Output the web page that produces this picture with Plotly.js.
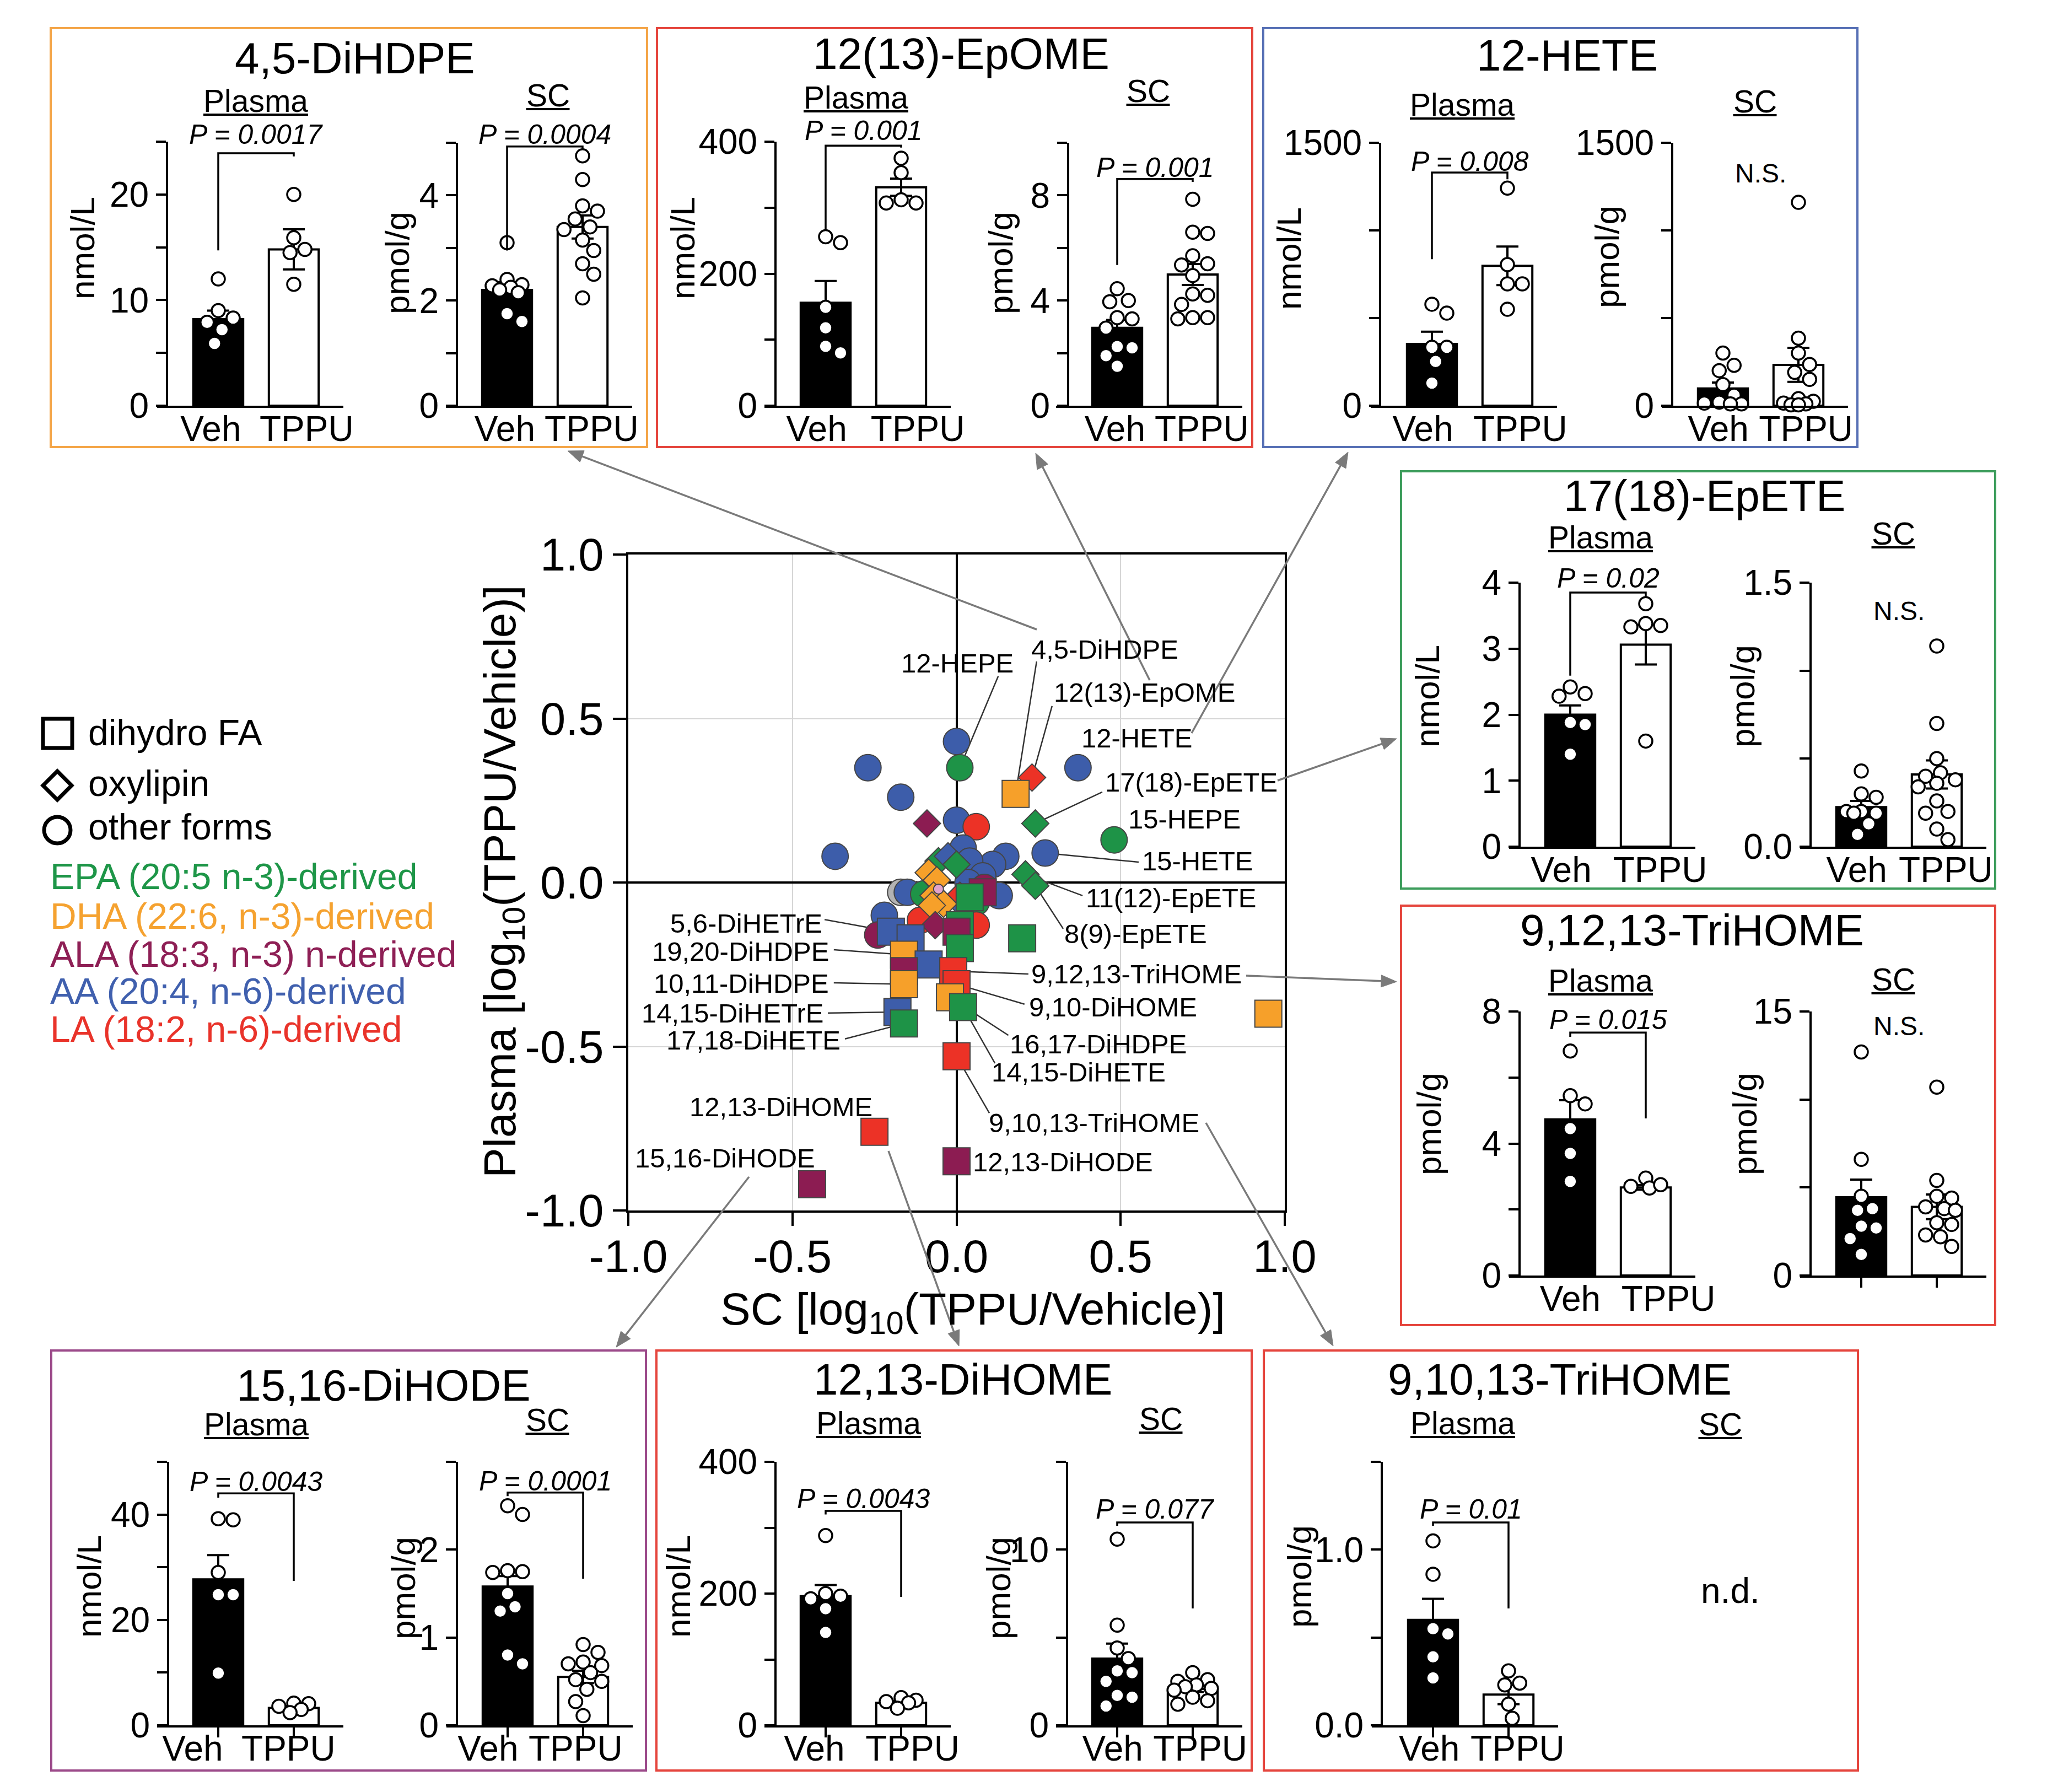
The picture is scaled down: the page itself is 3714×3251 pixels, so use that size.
<!DOCTYPE html>
<html><head><meta charset="utf-8">
<script src="https://cdn.plot.ly/plotly-3.0.1.min.js"></script>
<style>html,body{margin:0;padding:0;background:#fff}</style>
</head><body><div id="chart" style="width:3714px;height:3251px"></div>
<script>
// ================= DATA =================
const groups = ['Veh', 'TPPU'];

// --- central scatter: log10(TPPU/Vehicle) ---
const sc_log = [
  0.00, -0.27, 0.01, 0.37, -0.17, 0.00, 0.06, 0.48, 0.27, -0.37, 0.02, 0.15, 0.11, 0.04, 0.08, 0.035, 0.085, 0.06, 0.13, -0.17, -0.15, -0.10, -0.22, -0.11, 0.06, -0.24,
  0.23, -0.09, 0.24, 0.21, 0.24, -0.055, -0.026, 0.00, -0.085, -0.06, 0.00, 0.01, -0.07, -0.04, -0.075, -0.065,
  -0.055,
  0.18, 0.08, 0.04, 0.01, 0.00, -0.20, -0.14, 0.20, 0.01, -0.16, -0.085, -0.01, -0.16, -0.16, 0.00, -0.02, 0.02, -0.18, -0.16, 0.00, -0.25, 0.00, -0.44, 0.95
];
const plasma_log = [
  0.43, 0.35, 0.35, 0.35, 0.26, 0.19, 0.17, 0.13, 0.09, 0.08, 0.105, 0.08, 0.055, 0.065, 0.02, 0.00, -0.015, -0.06, -0.04, -0.03, -0.03, -0.035, -0.10, -0.115, -0.13, -0.16,
  0.32, 0.18, 0.18, 0.025, -0.01, 0.065, 0.08, 0.055, 0.03, 0.007, -0.05, -0.04, -0.04, -0.065, -0.07, -0.13,
  -0.02,
  0.27, -0.03, -0.045, -0.13, -0.15, -0.15, -0.17, -0.17, -0.20, -0.22, -0.25, -0.27, -0.27, -0.31, -0.31, -0.35, -0.38, -0.395, -0.43, -0.53, -0.76, -0.85, -0.92, -0.40
];
const lipid_form = [
  'other','other','other','other','other','other','other','other','other','other','other','other','other','other','other','other','other','other','other','other','other','other','other','other','other','other',
  'oxylipin','oxylipin','oxylipin','oxylipin','oxylipin','oxylipin','oxylipin','oxylipin','oxylipin','oxylipin','oxylipin','oxylipin','oxylipin','oxylipin','oxylipin','oxylipin',
  'other',
  'dihydro','dihydro','dihydro','dihydro','dihydro','dihydro','dihydro','dihydro','dihydro','dihydro','dihydro','dihydro','dihydro','dihydro','dihydro','dihydro','dihydro','dihydro','dihydro','dihydro','dihydro','dihydro','dihydro','dihydro'
];
const lipid_source = [
  'AA','AA','EPA','AA','AA','AA','LA','EPA','AA','AA','AA','AA','AA','AA','AA','AA','ALA','EPA','AA','NA','AA','EPA','AA','LA','LA','ALA',
  'LA','ALA','EPA','EPA','EPA','EPA','AA','EPA','DHA','DHA','AA','LA','DHA','DHA','DHA','ALA',
  'PK',
  'DHA','ALA','EPA','EPA','ALA','AA','AA','EPA','EPA','DHA','AA','LA','ALA','DHA','LA','DHA','EPA','AA','EPA','LA','LA','ALA','ALA','DHA'
];
const lipid_name = [
  '','','12-HEPE','12-HETE','','','','15-HEPE','15-HETE','','','','','','','','','','','','','','','','','',
  '12(13)-EpOME','','17(18)-EpETE','11(12)-EpETE','8(9)-EpETE','','','','','','','','','','','',
  '',
  '4,5-DiHDPE','','','','','5,6-DiHETrE','','','','19,20-DiHDPE','','9,12,13-TriHOME','','10,11-DiHDPE','9,10-DiHOME','16,17-DiHDPE','14,15-DiHETE','14,15-DiHETrE','17,18-DiHETE','9,10,13-TriHOME','12,13-DiHOME','12,13-DiHODE','15,16-DiHODE',''
];
const scatter_ticks = [-1, -0.5, 0, 0.5, 1];
const scatter_ticktext = ['-1.0', '-0.5', '0.0', '0.5', '1.0'];

// --- 4,5-DiHDPE ---
const dihdpe45_plasma_veh  = [12.0, 9.0, 8.3, 7.9, 7.2, 5.9];
const dihdpe45_plasma_tppu = [20.0, 15.9, 14.8, 14.5, 11.5];
const dihdpe45_plasma_bar  = [8.2, 14.8];
const dihdpe45_plasma_sem  = [0.8, 1.9];
const dihdpe45_sc_veh  = [3.1, 2.4, 2.3, 2.28, 2.25, 2.2, 2.15, 1.75, 1.6];
const dihdpe45_sc_tppu = [4.75, 4.3, 3.8, 3.7, 3.55, 3.4, 3.35, 3.15, 2.95, 2.7, 2.5, 2.05];
const dihdpe45_sc_bar  = [2.2, 3.4];
const dihdpe45_sc_sem  = [0.15, 0.22];
// --- 12(13)-EpOME ---
const epome_plasma_veh  = [256, 247, 149, 118, 90, 80];
const epome_plasma_tppu = [375, 353, 312, 307, 307];
const epome_plasma_bar  = [156, 331];
const epome_plasma_sem  = [33, 13];
const epome_sc_veh  = [4.45, 4.0, 3.95, 3.35, 3.3, 2.95, 2.25, 2.2, 1.9, 1.5];
const epome_sc_tppu = [7.85, 6.6, 6.55, 5.7, 5.4, 5.35, 4.95, 4.25, 4.2, 3.85, 3.35, 3.35, 3.3];
const epome_sc_bar  = [2.96, 4.99];
const epome_sc_sem  = [0.3, 0.4];
// --- 12-HETE ---
const hete12_plasma_veh  = [579, 528, 333, 333, 252, 129];
const hete12_plasma_tppu = [1241, 805, 695, 695, 550];
const hete12_plasma_bar  = [352, 798];
const hete12_plasma_sem  = [70, 110];
const hete12_sc_veh  = [300, 230, 200, 120, 60, 20, 15, 10, 10];
const hete12_sc_tppu = [1160, 385, 300, 235, 190, 150, 40, 25, 15, 10, 5, 5];
const hete12_sc_bar  = [98, 233];
const hete12_sc_sem  = [34, 97];
// --- 17(18)-EpETE ---
const epete_plasma_veh  = [2.42, 2.32, 2.28, 1.88, 1.85, 1.4];
const epete_plasma_tppu = [3.68, 3.38, 3.35, 3.33, 1.6];
const epete_plasma_bar  = [2.0, 3.06];
const epete_plasma_sem  = [0.14, 0.3];
const epete_sc_veh  = [0.43, 0.3, 0.28, 0.2, 0.2, 0.19, 0.19, 0.13, 0.07];
const epete_sc_tppu = [1.14, 0.70, 0.5, 0.42, 0.40, 0.38, 0.36, 0.34, 0.26, 0.2, 0.19, 0.1, 0.04];
const epete_sc_bar  = [0.225, 0.41];
const epete_sc_sem  = [0.035, 0.08];
// --- 9,12,13-TriHOME ---
const trihome91213_plasma_veh  = [6.8, 5.45, 5.2, 4.45, 3.7, 2.85];
const trihome91213_plasma_tppu = [2.95, 2.7, 2.65, 2.75];
const trihome91213_plasma_bar  = [4.73, 2.67];
const trihome91213_plasma_sem  = [0.58, 0.07];
const trihome91213_sc_veh  = [12.7, 6.6, 4.5, 3.8, 3.7, 2.8, 2.7, 2.1, 1.2];
const trihome91213_sc_tppu = [10.7, 5.4, 4.5, 4.4, 3.9, 3.8, 3.7, 3.0, 2.9, 2.3, 2.2, 1.65];
const trihome91213_sc_bar  = [4.45, 3.9];
const trihome91213_sc_sem  = [1.0, 0.7];
// --- 15,16-DiHODE ---
const dihode_plasma_veh  = [39.2, 39.0, 29.0, 24.8, 24.8, 9.9];
const dihode_plasma_tppu = [4.2, 4.1, 3.6, 3.0, 2.4];
const dihode_plasma_bar  = [27.7, 3.3];
const dihode_plasma_sem  = [4.6, 0.35];
const dihode_sc_veh  = [2.5, 2.4, 1.76, 1.75, 1.74, 1.5, 1.35, 1.3, 0.8, 0.7];
const dihode_sc_tppu = [0.92, 0.83, 0.72, 0.7, 0.68, 0.6, 0.52, 0.5, 0.41, 0.27, 0.11];
const dihode_sc_bar  = [1.58, 0.55];
const dihode_sc_sem  = [0.12, 0.07];
// --- 12,13-DiHOME ---
const dihome_plasma_veh  = [288, 200, 196, 192, 177, 141];
const dihome_plasma_tppu = [42, 38, 36, 34, 26];
const dihome_plasma_bar  = [196, 34];
const dihome_plasma_sem  = [17, 3];
const dihome_sc_veh  = [10.6, 5.7, 4.4, 3.8, 3.1, 3.0, 2.5, 1.7, 1.6, 1.1];
const dihome_sc_tppu = [3.0, 2.6, 2.5, 2.3, 2.2, 2.1, 2.0, 1.6, 1.4, 1.2];
const dihome_sc_bar  = [3.8, 2.07];
const dihome_sc_sem  = [0.85, 0.17];
// --- 9,10,13-TriHOME ---
const trihome91013_plasma_veh  = [1.05, 0.86, 0.55, 0.52, 0.39, 0.27];
const trihome91013_plasma_tppu = [0.31, 0.24, 0.23, 0.12, 0.04];
const trihome91013_plasma_bar  = [0.60, 0.175];
const trihome91013_plasma_sem  = [0.12, 0.055];

// ================= LAYOUT HELPERS =================
const W = 3714, H = 3251;
const px = v => v / W;
const py = v => 1 - v / H;
const FONT = 'Liberation Sans, Arial, Helvetica, sans-serif';
const GREY = '#7a7a7a';

// lx: where the group labels sit along the category axis (GraphPad nudges them apart)
const SUBPLOTS = [
  {veh:dihdpe45_plasma_veh, tppu:dihdpe45_plasma_tppu, bar:dihdpe45_plasma_bar, sem:dihdpe45_plasma_sem, vc:396, ax:303, y0:736, yt:257, top:25, tv:[0,5,10,15,20,25], tt:['0','','10','','20',''], p:'P = 0.0017', pt:25.7, by:23.9, lL:14.7, lR:23.6, lx:[-0.1,1.17]},
  {veh:dihdpe45_sc_veh, tppu:dihdpe45_sc_tppu, bar:dihdpe45_sc_bar, sem:dihdpe45_sc_sem, vc:920, ax:829, y0:736, yt:259, top:5, tv:[0,1,2,3,4,5], tt:['0','','2','','4',''], p:'P = 0.0004', pt:5.16, by:4.93, lL:2.95, lR:4.87, lx:[-0.03,1.12]},
  {veh:epome_plasma_veh, tppu:epome_plasma_tppu, bar:epome_plasma_bar, sem:epome_plasma_sem, vc:1498, ax:1407, y0:736, yt:257, top:400, tv:[0,100,200,300,400], tt:['0','','200','','400'], p:'P = 0.001', pt:417, by:394, lL:267, lR:391, lx:[-0.12,1.22]},
  {veh:epome_sc_veh, tppu:epome_sc_tppu, bar:epome_sc_bar, sem:epome_sc_sem, vc:2027, ax:1938, y0:736, yt:259, top:10, tv:[0,2,4,6,8,10], tt:['0','','4','','8',''], p:'P = 0.001', pt:9.06, by:8.62, lL:5.35, lR:8.51, lx:[-0.03,1.12]},
  {veh:hete12_plasma_veh, tppu:hete12_plasma_tppu, bar:hete12_plasma_bar, sem:hete12_plasma_sem, vc:2598, ax:2504, y0:736, yt:259, top:1500, tv:[0,500,1000,1500], tt:['0','','','1500'], p:'P = 0.008', pt:1393, by:1330, lL:836, lR:1292, lx:[-0.12,1.17]},
  {veh:hete12_sc_veh, tppu:hete12_sc_tppu, bar:hete12_sc_bar, sem:hete12_sc_sem, vc:3126, ax:3034, y0:736, yt:259, top:1500, tv:[0,500,1000,1500], tt:['0','','','1500'], ns:1327, lx:[-0.06,1.1]},
  {veh:epete_plasma_veh, tppu:epete_plasma_tppu, bar:epete_plasma_bar, sem:epete_plasma_sem, vc:2849, ax:2757, y0:1536, yt:1057, top:4, tv:[0,1,2,3,4], tt:['0','1','2','3','4'], p:'P = 0.02', pt:4.07, by:3.85, lL:2.59, lR:3.77, lx:[-0.12,1.19]},
  {veh:epete_sc_veh, tppu:epete_sc_tppu, bar:epete_sc_bar, sem:epete_sc_sem, vc:3377, ax:3285, y0:1536, yt:1057, top:1.5, tv:[0,0.5,1,1.5], tt:['0.0','','','1.5'], ns:1.34, lx:[-0.06,1.12]},
  {veh:trihome91213_plasma_veh, tppu:trihome91213_plasma_tppu, bar:trihome91213_plasma_bar, sem:trihome91213_plasma_sem, vc:2849, ax:2757, y0:2314, yt:1835, top:8, tv:[0,2,4,6,8], tt:['0','','4','','8'], p:'P = 0.015', pt:7.75, by:7.36, lL:7.23, lR:4.76, lx:[0.0,1.3]},
  {veh:trihome91213_sc_veh, tppu:trihome91213_sc_tppu, bar:trihome91213_sc_bar, sem:trihome91213_sc_sem, vc:3377, ax:3285, y0:2314, yt:1835, top:15, tv:[0,5,10,15], tt:['0','','','15'], ns:14.16, xticks:true, nolabels:true, lx:[0,1]},
  {veh:dihode_plasma_veh, tppu:dihode_plasma_tppu, bar:dihode_plasma_bar, sem:dihode_plasma_sem, vc:396, ax:305, y0:3130, yt:2652, top:50, tv:[0,10,20,30,40,50], tt:['0','','20','','40',''], p:'P = 0.0043', pt:46.2, by:44.0, lL:43.2, lR:27.4, xticks:true, lx:[-0.34,0.93]},
  {veh:dihode_sc_veh, tppu:dihode_sc_tppu, bar:dihode_sc_bar, sem:dihode_sc_sem, vc:921, ax:829, y0:3130, yt:2652, top:3, tv:[0,1,2,3], tt:['0','1','2',''], p:'P = 0.0001', pt:2.78, by:2.65, lL:2.61, lR:1.67, xticks:true, lx:[-0.26,0.9]},
  {veh:dihome_plasma_veh, tppu:dihome_plasma_tppu, bar:dihome_plasma_bar, sem:dihome_plasma_sem, vc:1498, ax:1407, y0:3130, yt:2652, top:400, tv:[0,100,200,300,400], tt:['0','','200','','400'], p:'P = 0.0043', pt:344, by:325.5, lL:320, lR:195, xticks:true, lx:[-0.15,1.15]},
  {veh:dihome_sc_veh, tppu:dihome_sc_tppu, bar:dihome_sc_bar, sem:dihome_sc_sem, vc:2027, ax:1936, y0:3130, yt:2652, top:15, tv:[0,5,10,15], tt:['0','','10',''], p:'P = 0.077', pt:12.3, by:11.55, lL:11.36, lR:6.65, xticks:true, lx:[-0.06,1.1]},
  {veh:trihome91013_plasma_veh, tppu:trihome91013_plasma_tppu, bar:trihome91013_plasma_bar, sem:trihome91013_plasma_sem, vc:2600, ax:2507, y0:3130, yt:2652, top:1.5, tv:[0,0.5,1,1.5], tt:['0.0','','1.0',''], p:'P = 0.01', pt:1.23, by:1.155, lL:1.136, lR:0.665, xticks:true, lx:[-0.05,1.12]}
];

const PANELS = [
  {title:'4,5-DiHDPE', box:[92,51,1174,811], color:'#F4A548', t:[644,106], pl:[464,183], sc:[994,173], yt:[[149,450,'nmol/L'],[721,477,'pmol/g']]},
  {title:'12(13)-EpOME', box:[1192,51,2272,811], color:'#E5453D', t:[1744,98], pl:[1553,177], sc:[2083,165], yt:[[1238,450,'nmol/L'],[1816,477,'pmol/g']]},
  {title:'12-HETE', box:[2292,51,3370,811], color:'#5770B5', t:[2843,100], pl:[2653,190], sc:[3184,184], yt:[[2339,469,'nmol/L'],[2915,466,'pmol/g']]},
  {title:'17(18)-EpETE', box:[2542,855,3620,1612], color:'#3D9D5C', t:[3092,899], pl:[2904,975], sc:[3435,968], yt:[[2589,1263,'nmol/L'],[3161,1263,'pmol/g']]},
  {title:'9,12,13-TriHOME', box:[2542,1643,3620,2404], color:'#E5453D', t:[3070,1687], pl:[2904,1779], sc:[3435,1777], yt:[[2592,2039,'pmol/g'],[3165,2039,'pmol/g']]},
  {title:'15,16-DiHODE', box:[93,2450,1172,3212], color:'#9C4A8A', t:[696,2513], pl:[465,2584], sc:[993,2576], yt:[[161,2878,'nmol/L'],[731,2881,'pmol/g']]},
  {title:'12,13-DiHOME', box:[1191,2450,2271,3212], color:'#E5453D', t:[1747,2502], pl:[1576,2582], sc:[2106,2574], yt:[[1230,2878,'nmol/L'],[1811,2881,'pmol/g']]},
  {title:'9,10,13-TriHOME', box:[2293,2450,3371,3212], color:'#E5453D', t:[2830,2502], pl:[2654,2582], sc:[3121,2584], yt:[[2357,2860,'pmol/g']], nd:[3139,2886]}
];

// label placement in scatter data units: [x, y, anchor, leaderStartX, leaderStartY]
const LABELS = {
  '4,5-DiHDPE':[0.224,0.711,'left',0.244,0.674],
  '12-HEPE':[-0.172,0.669,'left',0.127,0.629],
  '12(13)-EpOME':[0.293,0.58,'left',0.291,0.538],
  '12-HETE':[0.377,0.44,'left',null,null],
  '17(18)-EpETE':[0.449,0.306,'left',0.444,0.276],
  '15-HEPE':[0.52,0.193,'left',null,null],
  '15-HETE':[0.562,0.066,'left',0.555,0.062],
  '11(12)-EpETE':[0.39,-0.047,'left',0.384,-0.04],
  '8(9)-EpETE':[0.325,-0.156,'left',0.325,-0.141],
  '9,12,13-TriHOME':[0.224,-0.279,'left',0.219,-0.279],
  '9,10-DiHOME':[0.218,-0.38,'left',0.207,-0.371],
  '16,17-DiHDPE':[0.159,-0.492,'left',0.158,-0.466],
  '14,15-DiHETE':[0.103,-0.578,'left',0.117,-0.551],
  '9,10,13-TriHOME':[0.095,-0.733,'left',0.1,-0.703],
  '12,13-DiHODE':[0.046,-0.852,'left',null,null],
  '5,6-DiHETrE':[-0.405,-0.124,'right',-0.402,-0.113],
  '19,20-DiHDPE':[-0.385,-0.21,'right',-0.374,-0.205],
  '10,11-DiHDPE':[-0.385,-0.308,'right',-0.374,-0.306],
  '14,15-DiHETrE':[-0.402,-0.398,'right',-0.392,-0.398],
  '17,18-DiHETE':[-0.35,-0.481,'right',-0.34,-0.477],
  '12,13-DiHOME':[-0.253,-0.684,'right',null,null],
  '15,16-DiHODE':[-0.427,-0.84,'right',null,null]
};
// long grey arrows: [tailX, tailY, tipX, tipY] in page pixels
const ARROWS = [
  [1881,1142,1030,818],[2086,1234,1879,822],[2162,1330,2446,820],[2318,1416,2534,1340],
  [2261,1770,2534,1781],[1359,2135,1118,2444],[1612,2088,1740,2442],[2188,2037,2419,2442]
];

const FAMILY_COLOR = {EPA:'#1E9347', DHA:'#F6A02A', ALA:'#8C1C52', AA:'#3D5DAA', LA:'#EC3226', NA:'#B3B3B3', PK:'#E2A3CB'};
const FORM_SYMBOL = {dihydro:'square', oxylipin:'diamond', other:'circle'};
const FORM_SIZE = {dihydro:49, oxylipin:38, other:48};

// simple beeswarm: horizontal offsets (in category units) so dots do not overlap, capped in width
function swarm(vals, pyu, pxu, d, maxOff) {
  const idx = vals.map((v, i) => i).sort((a, b) => vals[b] - vals[a]);
  const placed = [], off = new Array(vals.length).fill(0);
  for (const i of idx) {
    const yp = vals[i] * pyu;
    let best = 0, bestScore = -1;
    for (let k = 0; k < 80; k++) {
      const cand = k === 0 ? 0 : (k % 2 ? 1 : -1) * Math.ceil(k / 2) * d * 0.25;
      if (Math.abs(cand) > maxOff) break;
      const md = placed.length ? Math.min(...placed.map(p => Math.hypot(p.x - cand, p.y - yp))) : Infinity;
      if (md >= d * 0.97) { best = cand; break; }
      if (md > bestScore) { bestScore = md; best = cand; }
    }
    placed.push({x: best, y: yp});
    off[i] = best / pxu;
  }
  return off;
}

// ================= BUILD =================
const traces = [];
const shapes = [];
const annotations = [];
const layout = {
  width: W, height: H, margin: {l:0, r:0, t:0, b:0, pad:0},
  paper_bgcolor: '#ffffff', plot_bgcolor: 'rgba(0,0,0,0)', showlegend: false, hovermode: false,
  font: {family: FONT, color: '#000'}
};

// central scatter
layout.xaxis = {domain:[px(1140), px(2331)], range:[-1,1], anchor:'y', tickvals:scatter_ticks, ticktext:scatter_ticktext,
  ticks:'outside', ticklen:24, tickwidth:4, tickcolor:'#000', showline:true, mirror:true, linewidth:4, linecolor:'#000',
  showgrid:true, gridcolor:'#d6d6d6', gridwidth:2, zeroline:true, zerolinecolor:'#000', zerolinewidth:4,
  tickfont:{size:83, family:FONT}, tickangle:0, ticklabelstandoff:-16, automargin:false};
layout.yaxis = {domain:[py(2196), py(1006)], range:[-1,1], anchor:'x', tickvals:scatter_ticks, ticktext:scatter_ticktext,
  ticks:'outside', ticklen:24, tickwidth:4, tickcolor:'#000', showline:true, mirror:true, linewidth:4, linecolor:'#000',
  showgrid:true, gridcolor:'#d6d6d6', gridwidth:2, zeroline:true, zerolinecolor:'#000', zerolinewidth:4,
  tickfont:{size:83, family:FONT}, automargin:false};

// labels + leader lines
Object.keys(LABELS).forEach(name => {
  const L = LABELS[name];
  const i = lipid_name.indexOf(name);
  annotations.push({xref:'x', yref:'y', x:L[0], y:L[1], text:name, xanchor:L[2], yanchor:'middle', showarrow:false, font:{size:49, family:FONT, color:'#000'}});
  if (L[3] !== null && i >= 0) {
    shapes.push({type:'line', xref:'x', yref:'y', x0:L[3], y0:L[4], x1:sc_log[i], y1:plasma_log[i], line:{color:'#333', width:2.5}, layer:'between'});
  }
});

traces.push({type:'scatter', mode:'markers', x:sc_log, y:plasma_log, xaxis:'x', yaxis:'y', text:lipid_name, hoverinfo:'skip', cliponaxis:false,
  marker:{symbol:lipid_form.map(f => FORM_SYMBOL[f]),
          size:lipid_form.map((f, i) => lipid_source[i] === 'PK' ? 18 : FORM_SIZE[f]),
          color:lipid_source.map(s => FAMILY_COLOR[s]), opacity:1,
          line:{color:'#454545', width:2}}});

annotations.push({xref:'paper', yref:'paper', x:px(1765), y:py(2380), text:'SC [log<sub>10</sub>(TPPU/Vehicle)]', showarrow:false, xanchor:'center', yanchor:'middle', font:{size:82, family:FONT}});
annotations.push({xref:'paper', yref:'paper', x:px(912), y:py(1599), text:'Plasma [log<sub>10</sub>(TPPU/Vehicle)]', showarrow:false, textangle:-90, xanchor:'center', yanchor:'middle', font:{size:82, family:FONT}});

// bar subplots
const XR = [-0.81, 1.66], SPACING = 137;
SUBPLOTS.forEach((s, i) => {
  const n = i + 2, xa = 'x' + n, ya = 'y' + n;
  const xl = s.vc + XR[0] * SPACING, xrr = s.vc + XR[1] * SPACING;
  layout['xaxis' + n] = {domain:[px(xl), px(xrr)], range:XR, anchor:ya, showline:true, linewidth:4, linecolor:'#000',
    showgrid:false, zeroline:false, tickvals:s.lx, ticktext:groups, tickangle:0, showticklabels:!s.nolabels,
    ticks:'', tickfont:{size:64, family:FONT}, ticklabelstandoff:-17, automargin:false,
    minor: s.xticks ? {tickmode:'array', tickvals:[0,1], ticks:'outside', ticklen:18, tickwidth:4, tickcolor:'#000', showgrid:false} : undefined};
  layout['yaxis' + n] = {domain:[py(s.y0), py(s.yt)], range:[0, s.top], anchor:'free', position:px(s.ax), showline:true, linewidth:4, linecolor:'#000',
    showgrid:false, zeroline:false, tickvals:s.tv, ticktext:s.tt, ticks:'outside', ticklen:18, tickwidth:4, tickcolor:'#000',
    tickfont:{size:64, family:FONT}, automargin:false};
  traces.push({type:'bar', x:[0,1], y:s.bar, width:0.66, xaxis:xa, yaxis:ya, hoverinfo:'skip',
    marker:{color:['#000000','#ffffff'], line:{color:'#000', width:4}},
    error_y:{type:'data', array:s.sem, visible:true, color:'#000', thickness:4, width:20}});
  const pyu = (s.y0 - s.yt) / s.top;
  [s.veh, s.tppu].forEach((vals, g) => {
    const off = swarm(vals, pyu, SPACING, 27, 40);
    traces.push({type:'scatter', mode:'markers', x:vals.map((v, k) => g + off[k]), y:vals, xaxis:xa, yaxis:ya, cliponaxis:false, hoverinfo:'skip',
      marker:{symbol:'circle', size:24, color:'#ffffff', opacity:1, line:{color:'#000', width:3.5}}});
  });
  const midX = s.vc + 0.5 * SPACING;
  if (s.p) {
    annotations.push({xref:'paper', yref:'paper', x:px(midX), y:py(s.y0 - s.pt * pyu), text:'<i>' + s.p + '</i>', showarrow:false, xanchor:'center', yanchor:'middle', font:{size:50, family:FONT}});
    shapes.push({type:'path', xref:xa, yref:ya, path:`M 0,${s.lL} L 0,${s.by} L 1,${s.by} L 1,${s.lR}`, line:{color:'#000', width:3.5}, layer:'above'});
  }
  if (s.ns != null) {
    annotations.push({xref:'paper', yref:'paper', x:px(midX), y:py(s.y0 - s.ns * pyu), text:'N.S.', showarrow:false, xanchor:'center', yanchor:'middle', font:{size:48, family:FONT}});
  }
});

// panel decorations
PANELS.forEach(p => {
  shapes.push({type:'rect', xref:'paper', yref:'paper', x0:px(p.box[0]), x1:px(p.box[2]), y0:py(p.box[3]), y1:py(p.box[1]), line:{color:p.color, width:4}, fillcolor:'rgba(0,0,0,0)', layer:'below'});
  annotations.push({xref:'paper', yref:'paper', x:px(p.t[0]), y:py(p.t[1]), text:p.title, showarrow:false, xanchor:'center', yanchor:'middle', font:{size:80, family:FONT}});
  [[p.pl, 'Plasma', 190], [p.sc, 'SC', 79]].forEach(([pos, txt, w]) => {
    annotations.push({xref:'paper', yref:'paper', x:px(pos[0]), y:py(pos[1]), text:txt, showarrow:false, xanchor:'center', yanchor:'middle', font:{size:57, family:FONT}});
    shapes.push({type:'line', xref:'paper', yref:'paper', x0:px(pos[0] - w / 2), x1:px(pos[0] + w / 2), y0:py(pos[1] + 25), y1:py(pos[1] + 25), line:{color:'#000', width:4}});
  });
  p.yt.forEach(([x, y, txt]) => {
    annotations.push({xref:'paper', yref:'paper', x:px(x), y:py(y), text:txt, textangle:-90, showarrow:false, xanchor:'center', yanchor:'middle', font:{size:62, family:FONT}});
  });
  if (p.nd) annotations.push({xref:'paper', yref:'paper', x:px(p.nd[0]), y:py(p.nd[1]), text:'n.d.', showarrow:false, xanchor:'center', yanchor:'middle', font:{size:64, family:FONT}});
});

// arrows (line + filled head)
ARROWS.forEach(([tx, ty, hx, hy]) => {
  const dx = hx - tx, dy = hy - ty, len = Math.hypot(dx, dy), ux = dx / len, uy = dy / len;
  const hl = 28, hw = 11;
  const bx = hx - ux * hl, bY = hy - uy * hl;
  shapes.push({type:'line', xref:'paper', yref:'paper', x0:px(tx), y0:py(ty), x1:px(bx), y1:py(bY), line:{color:GREY, width:3.5}});
  const lx = bx - uy * hw, ly = bY + ux * hw, rx = bx + uy * hw, ry = bY - ux * hw;
  shapes.push({type:'path', xref:'paper', yref:'paper', path:`M ${px(hx)},${py(hy)} L ${px(lx)},${py(ly)} L ${px(rx)},${py(ry)} Z`, fillcolor:GREY, line:{color:GREY, width:1}});
});

// legend
shapes.push({type:'rect', xref:'paper', yref:'paper', x0:px(78), x1:px(131), y0:py(1357), y1:py(1304), line:{color:'#000', width:7}, fillcolor:'rgba(0,0,0,0)'});
shapes.push({type:'path', xref:'paper', yref:'paper', path:`M ${px(104)},${py(1399)} L ${px(130)},${py(1425)} L ${px(104)},${py(1451)} L ${px(78)},${py(1425)} Z`, line:{color:'#000', width:7}, fillcolor:'rgba(0,0,0,0)'});
shapes.push({type:'circle', xref:'paper', yref:'paper', x0:px(80), x1:px(128), y0:py(1530), y1:py(1482), line:{color:'#000', width:7}, fillcolor:'rgba(0,0,0,0)'});
[['dihydro FA',1329],['oxylipin',1421],['other forms',1500]].forEach(([t, y]) => {
  annotations.push({xref:'paper', yref:'paper', x:px(158), y:py(y), text:t, showarrow:false, xanchor:'left', yanchor:'middle', font:{size:66, family:FONT}});
});
[['EPA (20:5 n-3)-derived','#1E9648',1590],['DHA (22:6, n-3)-derived','#F5A230',1662],['ALA (18:3, n-3) n-derived','#8E1F55',1731],
 ['AA (20:4, n-6)-derived','#4060AE',1798],['LA (18:2, n-6)-derived','#E9332A',1867]].forEach(([t, c, y]) => {
  annotations.push({xref:'paper', yref:'paper', x:px(89), y:py(y), text:t, showarrow:false, xanchor:'left', yanchor:'middle', font:{size:66, family:FONT, color:c}});
});

layout.shapes = shapes;
layout.annotations = annotations;
Plotly.newPlot('chart', traces, layout, {displayModeBar:false, staticPlot:true});
</script>
</body></html>
